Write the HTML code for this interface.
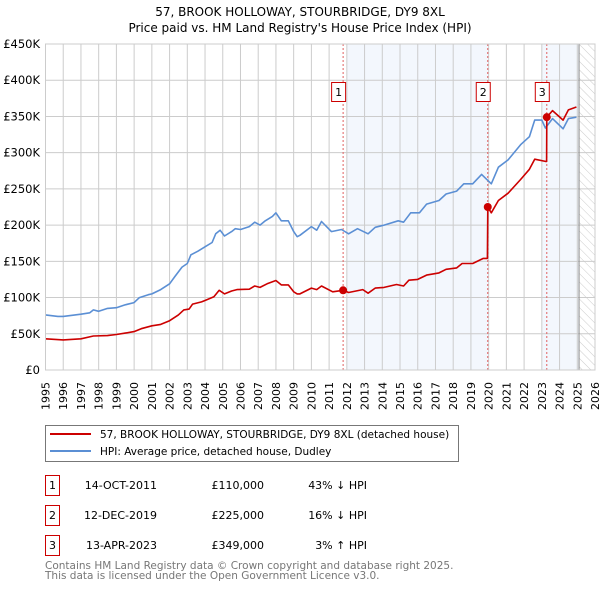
<!DOCTYPE html>
<html><head><meta charset="utf-8"><style>
body{margin:0;background:#fff;font-family:"DejaVu Sans","Liberation Sans",sans-serif;}
svg text{font-family:"DejaVu Sans","Liberation Sans",sans-serif;}
</style></head><body>
<svg id="chart" width="600" height="590" xmlns="http://www.w3.org/2000/svg">
<defs><pattern id="hatch" width="6" height="6" patternUnits="userSpaceOnUse" patternTransform="rotate(-45)"><line x1="0" y1="0" x2="0" y2="6" stroke="#ccc" stroke-width="1"/></pattern></defs>
<text x="300" y="16" text-anchor="middle" font-size="12">57, BROOK HOLLOWAY, STOURBRIDGE, DY9 8XL</text>
<text x="300" y="32" text-anchor="middle" font-size="12">Price paid vs. HM Land Registry's House Price Index (HPI)</text>
<g id="plot"></g>
<g>
<rect x="45.5" y="425.5" width="413" height="36" fill="#fff" stroke="#777"/>
<line x1="50" y1="434" x2="91" y2="434" stroke="#cc0000" stroke-width="2"/>
<text x="100" y="438" font-size="10.5">57, BROOK HOLLOWAY, STOURBRIDGE, DY9 8XL (detached house)</text>
<line x1="50" y1="451" x2="91" y2="451" stroke="#5b8fd4" stroke-width="2"/>
<text x="100" y="455" font-size="10.5">HPI: Average price, detached house, Dudley</text>
</g>
<g font-size="11">
<rect x="45.5" y="475.5" width="14" height="20" fill="#fff" stroke="#cc0000"/><text x="52.5" y="489" text-anchor="middle">1</text>
<text x="157" y="489" text-anchor="end">14-OCT-2011</text><text x="264" y="489" text-anchor="end">£110,000</text><text x="367" y="489" text-anchor="end">43% ↓ HPI</text>
<rect x="45.5" y="505.5" width="14" height="20" fill="#fff" stroke="#cc0000"/><text x="52.5" y="519" text-anchor="middle">2</text>
<text x="157" y="519" text-anchor="end">12-DEC-2019</text><text x="264" y="519" text-anchor="end">£225,000</text><text x="367" y="519" text-anchor="end">16% ↓ HPI</text>
<rect x="45.5" y="535.5" width="14" height="20" fill="#fff" stroke="#cc0000"/><text x="52.5" y="549" text-anchor="middle">3</text>
<text x="157" y="549" text-anchor="end">13-APR-2023</text><text x="264" y="549" text-anchor="end">£349,000</text><text x="367" y="549" text-anchor="end">3% ↑ HPI</text>
</g>
<text x="45" y="569" font-size="10.5" fill="#777">Contains HM Land Registry data © Crown copyright and database right 2025.</text>
<text x="45" y="579" font-size="10.5" fill="#777">This data is licensed under the Open Government Licence v3.0.</text>
</svg>
<script>
const yTicks=[0,50,100,150,200,250,300,350,400,450];
const yTickLabels=["£0","£50K","£100K","£150K","£200K","£250K","£300K","£350K","£400K","£450K"];
const hpiYears=[1995,1995.7,1996,1997,1997.5,1997.7,1998,1998.5,1999,1999.5,2000,2000.3,2000.8,2001,2001.5,2002,2002.3,2002.7,2003,2003.2,2003.6,2004,2004.4,2004.6,2004.85,2005.1,2005.5,2005.7,2006,2006.5,2006.8,2007.1,2007.4,2007.8,2008,2008.3,2008.7,2009,2009.2,2009.35,2010,2010.3,2010.57,2011.13,2011.7,2012.1,2012.6,2013.2,2013.6,2014.1,2014.9,2015.2,2015.6,2016.1,2016.5,2017.2,2017.6,2018.2,2018.6,2019.1,2019.6,2020.15,2020.55,2021.1,2021.8,2022.3,2022.6,2023.0,2023.2,2023.6,2024.2,2024.5,2024.95];
const hpiValues=[76,74,74,77,79,83,81,85,86,90,93,100,104,105,111,119,129,142,147,159,164,170,176,188,193,185,191,195,194,198,204,200,206,212,217,206,206,191,184,186,198,193,205,191,194,188,195,188,197,200,206,204,217,217,229,234,243,247,257,257,270,257,280,290,311,322,345,345,334,347,333,347,349];
const priceYears=[1995,1996,1997,1997.7,1998.5,1999,1999.5,2000,2000.4,2001,2001.5,2002,2002.5,2002.8,2003.1,2003.3,2003.8,2004,2004.5,2004.8,2005.1,2005.5,2005.8,2006.5,2006.8,2007.1,2007.5,2008,2008.3,2008.7,2009,2009.2,2009.35,2010,2010.3,2010.57,2011.2,2011.79,2012.1,2012.9,2013.2,2013.6,2014.1,2014.8,2015.2,2015.5,2016,2016.5,2017.2,2017.6,2018.2,2018.5,2019.1,2019.7,2019.93,2019.95,2020.15,2020.55,2021.1,2021.8,2022.3,2022.6,2023.2,2023.27,2023.28,2023.6,2024.2,2024.5,2024.95];
const priceValues=[43,41.5,43,47,47.5,49,51,53,57,61,63,68,76,83,84,91,94,96,101,110,105,109,111,111.5,116,114,119,123.5,117.5,117.5,108,105,105,113,111,116,108,110,107,111,106,113,114,118,116,124,125,131,134,139,141,147,147,154,154,225,217,234,244,263,277,291,288,288,349,358,345,359,363];
const saleYears=[2011.79,2019.95,2023.28];
const saleValues=[110,225,349];
const saleLabels=["1","2","3"];
const xTicks=[];for(let y=1995;y<=2026;y++)xTicks.push(y);

const X0=45.5,X1=595,Y0=370,Y1=44;
const xs=y=>X0+(y-1995)*(X1-X0)/31;
const ys=v=>Y0-v*(Y0-Y1)/450;
const NS="http://www.w3.org/2000/svg";
const g=document.getElementById('plot');
function mk(t,a,p){const e=document.createElementNS(NS,t);for(const k in a)e.setAttribute(k,a[k]);(p||g).appendChild(e);return e;}

let e;
e=mk('rect',{x:xs(2012),y:Y1,width:xs(saleYears[1])-xs(2012),height:Y0-Y1,fill:'#eef3fc',opacity:0.7});


e=mk('rect',{x:xs(2023),y:Y1,width:xs(2025.1)-xs(2023),height:Y0-Y1,fill:'#eef3fc',opacity:0.7});


e=mk('rect',{x:xs(2025.1),y:Y1,width:X1-xs(2025.1),height:Y0-Y1,fill:'url(#hatch)'});



xTicks.forEach(t=>{
  e=mk('line',{x1:xs(t),x2:xs(t),y1:Y1,y2:Y0,stroke:'#ccc','stroke-width':1});
  
  
  e=mk('text',{x:0,y:0,transform:`translate(${xs(t)+4},382) rotate(-90)`,'text-anchor':'end','font-size':11});
  e.textContent=t;
  
  
});
yTicks.forEach((t,i)=>{
  e=mk('line',{x1:X0,x2:X1,y1:ys(t),y2:ys(t),stroke:'#ccc','stroke-width':1});
  
  
  e=mk('text',{x:40,y:ys(t)+4,'text-anchor':'end','font-size':11.5});
  e.textContent=yTickLabels[i];
  
  
});
e=mk('line',{x1:xs(2025.1),x2:xs(2025.1),y1:Y1,y2:Y0,stroke:'#888','stroke-width':1});



saleYears.forEach((s,i)=>{
  e=mk('line',{x1:xs(s),x2:xs(s),y1:Y1,y2:Y0,stroke:'#e06060','stroke-width':1,'stroke-dasharray':'2,2'});
  
  
});

function path(xa,va,col,name){
  const d=xa.map((x,i)=>(i?'L':'M')+xs(x).toFixed(1)+','+ys(va[i]).toFixed(1)).join('');
  e=mk('path',{d:d,fill:'none',stroke:col,'stroke-width':1.6,'stroke-linejoin':'round'});
  
  
}
path(hpiYears,hpiValues,'#5b8fd4','hpi-line');
path(priceYears,priceValues,'#cc0000','price-line');

saleYears.forEach((s,i)=>{
  e=mk('circle',{cx:xs(s),cy:ys(saleValues[i]),r:4,fill:'#cc0000'});
  
  
  e=mk('rect',{x:xs(s)-11.5,y:82.5,width:14,height:19,fill:'#fff',stroke:'#cc0000'});
  
  
  e=mk('text',{x:xs(s)-4.5,y:96,'text-anchor':'middle','font-size':11});
  e.textContent=saleLabels[i];
  
  
});
e=mk('rect',{x:X0,y:Y1,width:X1-X0,height:Y0-Y1,fill:'none',stroke:'#ccc'});


</script>
</body></html>
